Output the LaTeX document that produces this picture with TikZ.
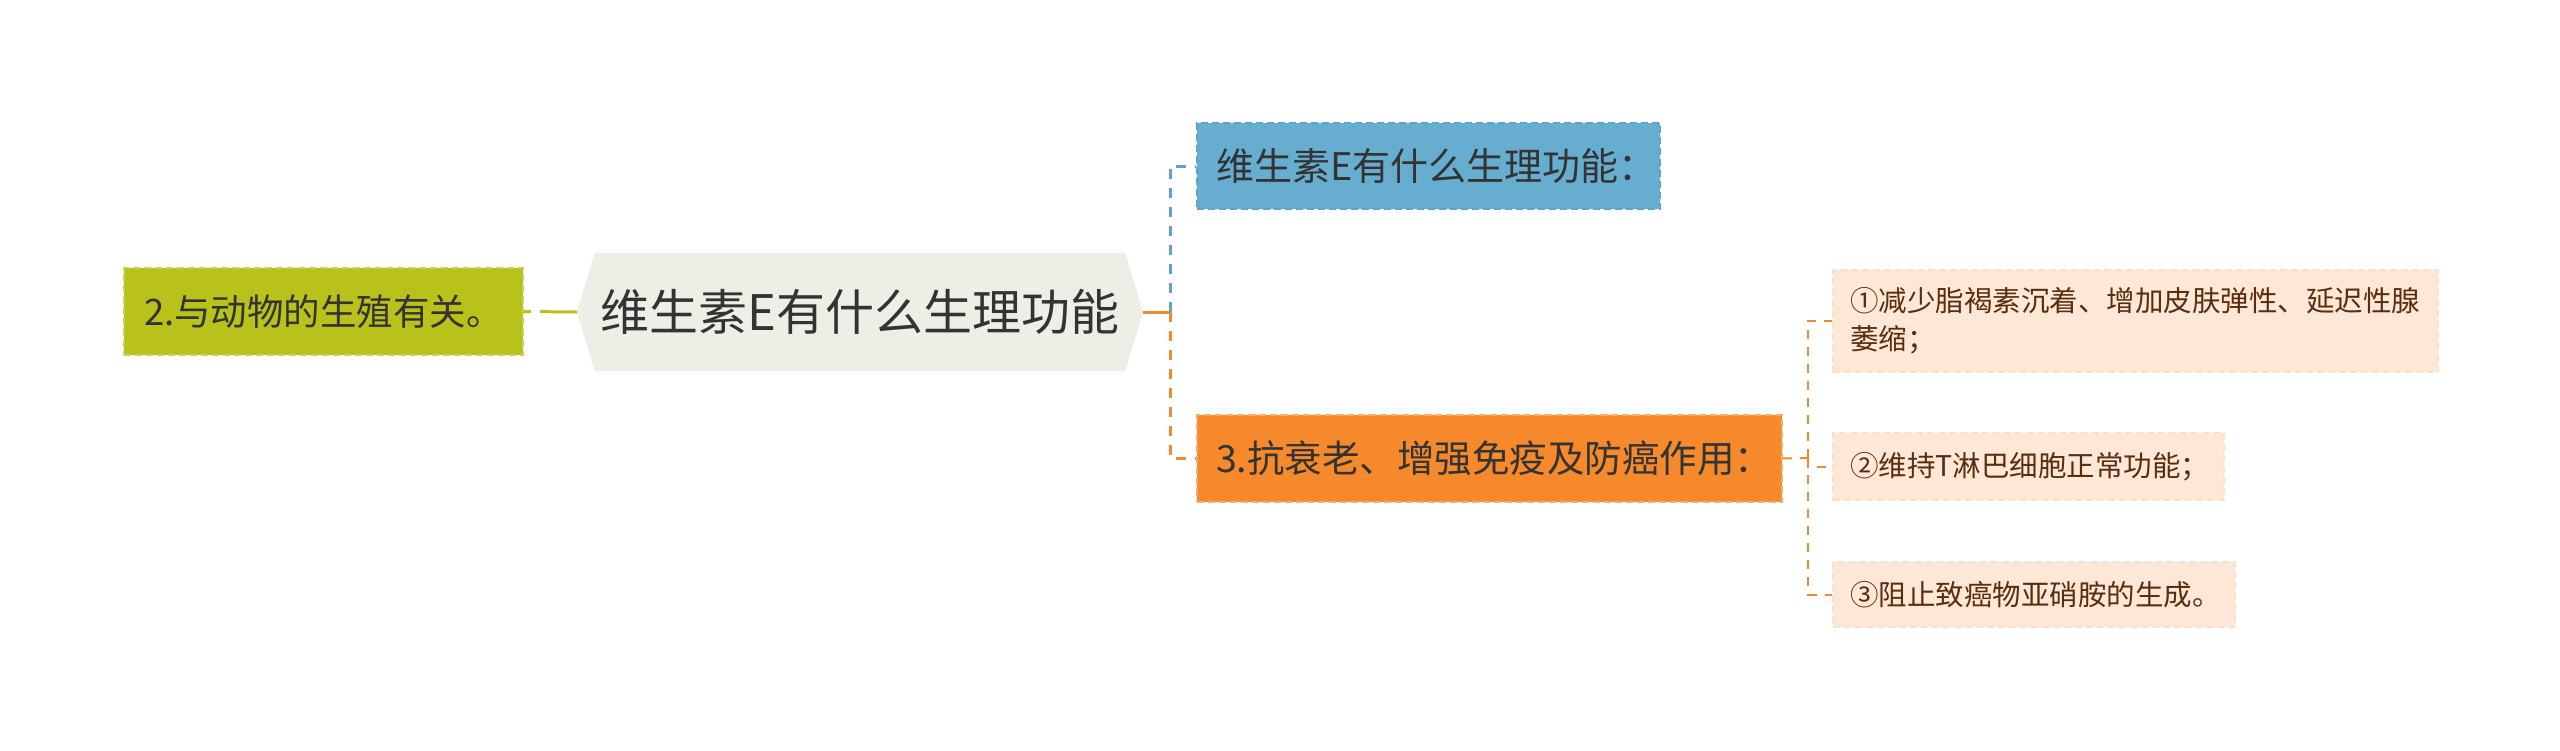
\documentclass[tikz,border=0pt]{standalone}
\usepackage{fontspec}
\setmainfont{Noto Sans CJK SC}
\usetikzlibrary{backgrounds}

\definecolor{greenbox}{HTML}{B9C21B}
\definecolor{greenline}{HTML}{CDD24E}
\definecolor{rootfill}{HTML}{EFEEE6}
\definecolor{bluebox}{HTML}{67ADD0}
\definecolor{blueline}{HTML}{5EA5CB}
\definecolor{orangebox}{HTML}{F5892C}
\definecolor{orangeline}{HTML}{F08A30}
\definecolor{subfill}{HTML}{FDE8D7}
\definecolor{subline}{HTML}{FCE0CB}
\definecolor{subtext}{HTML}{5A2D0C}
\definecolor{textdark}{HTML}{333333}

\begin{document}
\begin{tikzpicture}[x=1pt, y=-1pt]
			\tikzstyle{topic}=[rectangle, align=left, inner ysep=0pt, text=textdark, dash pattern=on 7pt off 4pt, line width=1.5pt]
			\tikzstyle{subtopic}=[topic, fill=subfill, draw=subline, text=subtext, inner xsep=17pt, font=\fontsize{28.5pt}{38pt}\selectfont]
			\useasboundingbox (0,0) rectangle (2560,750);
			
			% center and left branch
			\node[inner sep=0pt, minimum width=566pt, minimum height=118pt, text=textdark, font=\fontsize{49pt}{56pt}\selectfont](root) at (860,312){维生素E有什么生理功能};
			\begin{pgfonlayer}{background}
			\fill[rootfill] (root.west) -- ([xshift=18pt]root.north west) -- ([xshift=-18pt]root.north east) -- (root.east) -- ([xshift=-18pt]root.south east) -- ([xshift=18pt]root.south west) -- cycle;
			\end{pgfonlayer}
			\node[topic, fill=greenbox, draw=greenline, inner xsep=20pt, text width=359pt, minimum height=87pt, font=\fontsize{36.5pt}{43pt}\selectfont](reproduce) at (323.5,311.5){2.与动物的生殖有关。};
			
			% right branches
			\node[topic, fill=bluebox, draw=blueline, inner xsep=19pt, text width=425pt, minimum height=86pt, font=\fontsize{38pt}{45pt}\selectfont](question) at (1428.5,166){维生素E有什么生理功能：};
			\node[topic, fill=orangebox, draw=orangeline!70!white, inner xsep=19pt, text width=547pt, minimum height=87pt, font=\fontsize{37.5pt}{44pt}\selectfont](antiaging) at (1489.5,458.5){3.抗衰老、增强免疫及防癌作用：};
			
			\node[subtopic, text width=571pt, minimum height=102pt](sub-1) at (2135.5,321){①减少脂褐素沉着、增加皮肤弹性、延迟性腺\\萎缩；};
			\node[subtopic, text width=357pt, minimum height=67pt](sub-2) at (2028.5,466.5){②维持T淋巴细胞正常功能；};
			\node[subtopic, text width=368pt, minimum height=65pt](sub-3) at (2034,594.5){③阻止致癌物亚硝胺的生成。};
			
			\coordinate (trunk) at (1170,312);
			\coordinate (subtrunk) at (1808,458);
			
			\draw[greenbox, line width=3pt, dash pattern=on 37pt off 9pt] (root.west) -- (reproduce.east);
			\draw[orangeline, line width=3pt] (root.east) -- (trunk);
			\draw[blueline, line width=3pt, dash pattern=on 10pt off 9pt] (trunk) |- (question.west);
			\draw[orangeline, line width=3pt, dash pattern=on 10pt off 9pt] (trunk) |- (antiaging.west);
			
			\draw[orangeline, line width=2pt, dash pattern=on 9pt off 8pt] (antiaging.east) -- (subtrunk);
			\foreach \y in {1,...,3}
			\draw[orangeline, line width=2pt, dash pattern=on 9pt off 8pt] (subtrunk) |- (sub-\y.west);
\end{tikzpicture}
\end{document}
